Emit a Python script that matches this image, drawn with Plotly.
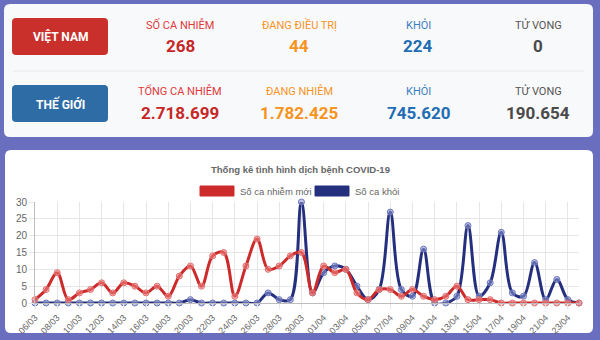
import plotly.graph_objects as go
import pandas as pd

# ---- Summary figures ----
regions = ["VIỆT NAM", "THẾ GIỚI"]
stat_labels = [
    ["SỐ CA NHIỄM", "ĐANG ĐIỀU TRỊ", "KHỎI", "TỬ VONG"],
    ["TỔNG CA NHIỄM", "ĐANG NHIỄM", "KHỎI", "TỬ VONG"],
]
stat_values = [
    ["268", "44", "224", "0"],
    ["2.718.699", "1.782.425", "745.620", "190.654"],
]

# ---- Daily series, 06/03 .. 24/04 ----
dates = pd.date_range("2020-03-06", "2020-04-24", freq="D")
new_cases = [1, 4, 9, 1, 3, 4, 6, 3, 6, 5, 3, 5, 2, 8, 11, 5, 14, 15, 2, 11,
             19, 10, 11, 14, 15, 3,
             11, 9, 10, 3, 1, 4, 4, 2, 4, 2, 1, 2, 5, 1, 1, 1, 0, 0, 0, 0,
             0, 0, 0, 0]
recovered = [0, 0, 0, 0, 0, 0, 0, 0, 0, 0, 0, 0, 0, 0, 1, 0, 0, 0, 0, 0,
             0, 3, 1, 1, 30, 3,
             9, 11, 10, 5, 1, 4, 27, 4, 2, 16, 0, 0, 2, 23, 2, 6, 21, 3, 2, 12,
             1, 7, 1, 0]
series_names = ["Số ca nhiễm mới", "Số ca khỏi"]
chart_title = "Thống kê tình hình dịch bệnh COVID-19"

W, H = 600, 340
BG = "#6a6ebf"
RED = "#cd2b2b"
NAVY = "#24307e"


def px(x):
    return x / W


def py(y):
    return 1 - y / H


def rounded_rect(x0, y0, x1, y1, r):
    pts = [
        f"M{px(x0 + r)},{py(y0)}",
        f"L{px(x1 - r)},{py(y0)}",
        f"Q{px(x1)},{py(y0)} {px(x1)},{py(y0 + r)}",
        f"L{px(x1)},{py(y1 - r)}",
        f"Q{px(x1)},{py(y1)} {px(x1 - r)},{py(y1)}",
        f"L{px(x0 + r)},{py(y1)}",
        f"Q{px(x0)},{py(y1)} {px(x0)},{py(y1 - r)}",
        f"L{px(x0)},{py(y0 + r)}",
        f"Q{px(x0)},{py(y0)} {px(x0 + r)},{py(y0)}",
        "Z",
    ]
    return " ".join(pts)


fig = go.Figure()

# recovered drawn first so the new-case line sits on top
fig.add_trace(go.Scatter(
    x=dates, y=recovered, name=series_names[1], mode="lines+markers",
    line=dict(color=NAVY, width=3, shape="spline", smoothing=1.0),
    marker=dict(size=6, color="rgba(140,150,210,0.55)",
                line=dict(color="#6c76bd", width=1)),
    cliponaxis=False, showlegend=False,
))
fig.add_trace(go.Scatter(
    x=dates, y=new_cases, name=series_names[0], mode="lines+markers",
    line=dict(color=RED, width=3, shape="spline", smoothing=1.0),
    marker=dict(size=6, color="rgba(240,130,130,0.55)",
                line=dict(color="#e07070", width=1)),
    cliponaxis=False, showlegend=False,
))

shapes = []
annotations = []

# panels
shapes.append(dict(type="path", xref="paper", yref="paper",
                   path=rounded_rect(4, 4, 593, 137, 6),
                   fillcolor="#f8f9fb", line=dict(width=0), layer="below"))
shapes.append(dict(type="path", xref="paper", yref="paper",
                   path=rounded_rect(5, 150, 593, 333, 6),
                   fillcolor="#ffffff", line=dict(width=0), layer="below"))
# divider between the two summary rows
shapes.append(dict(type="line", xref="paper", yref="paper",
                   x0=px(13), x1=px(584), y0=py(71), y1=py(71),
                   line=dict(color="#e6e8ec", width=1)))

button_colors = ["#c9302c", "#2e6ca6"]
row_label_y = [25, 91]
row_value_y = [46, 113]
button_y = [(18, 55), (85, 122)]
col_x = [180, 299, 418, 538]
label_colors = ["#e0383a", "#f7941d", "#3b7fc0", "#555555"]
value_colors = ["#c62828", "#f7941d", "#1f6db4", "#4a4a4a"]

for i, region in enumerate(regions):
    y0, y1 = button_y[i]
    shapes.append(dict(type="path", xref="paper", yref="paper",
                       path=rounded_rect(12, y0, 108, y1, 4),
                       fillcolor=button_colors[i], line=dict(width=0)))
    annotations.append(dict(x=px(60), y=py((y0 + y1) / 2), xref="paper", yref="paper",
                            text=f"<b>{region}</b>", showarrow=False,
                            xanchor="center", yanchor="middle",
                            font=dict(family="Roboto", size=12, color="#ffffff")))
    for j in range(4):
        annotations.append(dict(x=px(col_x[j]), y=py(row_label_y[i]), xref="paper", yref="paper",
                                text=stat_labels[i][j], showarrow=False,
                                xanchor="center", yanchor="middle",
                                font=dict(family="Roboto", size=11, color=label_colors[j])))
        annotations.append(dict(x=px(col_x[j]), y=py(row_value_y[i]), xref="paper", yref="paper",
                                text=f"<b>{stat_values[i][j]}</b>", showarrow=False,
                                xanchor="center", yanchor="middle",
                                font=dict(family="Roboto", size=17, color=value_colors[j])))

# chart title
annotations.append(dict(x=px(300), y=py(169), xref="paper", yref="paper",
                        text=f"<b>{chart_title}</b>", showarrow=False,
                        xanchor="center", yanchor="middle",
                        font=dict(family="Liberation Sans", size=9.5, color="#666666")))

# legend boxes
legend_items = [(200, RED, series_names[0]), (315, NAVY, series_names[1])]
for x0, col, name in legend_items:
    shapes.append(dict(type="rect", xref="paper", yref="paper",
                       x0=px(x0), x1=px(x0 + 34), y0=py(186), y1=py(196),
                       fillcolor=col, line=dict(color=col, width=1)))
    annotations.append(dict(x=px(x0 + 38), y=py(191), xref="paper", yref="paper",
                            text=name, showarrow=False,
                            xanchor="left", yanchor="middle",
                            font=dict(family="Liberation Sans", size=9.5, color="#666666")))

fig.update_layout(
    width=W, height=H,
    margin=dict(l=0, r=0, t=0, b=0, autoexpand=False),
    paper_bgcolor=BG, plot_bgcolor="rgba(0,0,0,0)",
    shapes=shapes, annotations=annotations,
    showlegend=False,
    xaxis=dict(
        domain=[px(35), px(579)],
        type="date",
        range=[dates[0], dates[-1]],
        tick0=dates[0], dtick=2 * 86400000,
        tickformat="%d/%m", tickangle=-45,
        showgrid=True, gridcolor="#e6e6e6", gridwidth=1,
        ticks="outside", ticklen=5, tickcolor="#e6e6e6",
        showline=True, linecolor="#bdbdbd", linewidth=1,
        tickfont=dict(family="Liberation Sans", size=9, color="#666666"),
        zeroline=False, fixedrange=True, automargin=False,
    ),
    yaxis=dict(
        domain=[py(303), py(202)],
        range=[0, 30], tickvals=[0, 5, 10, 15, 20, 25, 30],
        showgrid=True, gridcolor="#e6e6e6", gridwidth=1,
        ticks="outside", ticklen=5, tickcolor="#e6e6e6",
        showline=True, linecolor="#bdbdbd", linewidth=1,
        tickfont=dict(family="Liberation Sans", size=10, color="#666666"),
        zeroline=False, fixedrange=True, automargin=False,
    ),
)

fig.write_html("out.html", config={"displayModeBar": False})
